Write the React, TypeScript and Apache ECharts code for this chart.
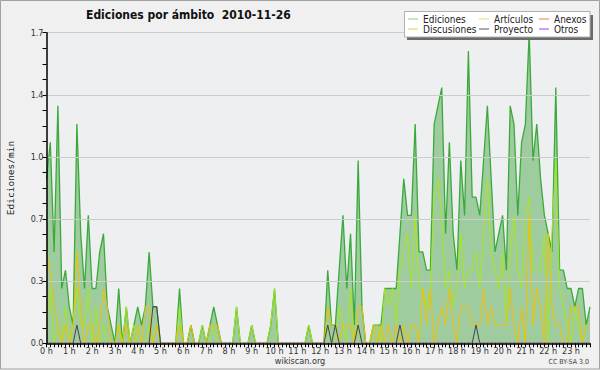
import React, { useEffect, useRef } from "react";
import * as echarts from "echarts";

const FONT = '"DejaVu Sans Condensed", "Liberation Sans Narrow", "DejaVu Sans", sans-serif';

// 10-minute bins over the day
const timeLabels: string[] = [];
for (let h = 0; h < 24; h++) {
  for (let m = 0; m < 60; m += 10) timeLabels.push(`${h}:${String(m).padStart(2, "0")}`);
}

const ediciones = [
  0.9, 1.1, 0.5, 1.3, 0.3, 0.4, 0.2, 0.1, 1.2, 0.6, 0.3, 0.7,
  0.3, 0.3, 0.5, 0.6, 0.2, 0.1, 0, 0.3, 0, 0.2, 0, 0.1,
  0.2, 0.1, 0.2, 0.5, 0.2, 0.2, 0, 0, 0, 0, 0, 0.3,
  0, 0, 0.1, 0, 0, 0.1, 0, 0.1, 0.2, 0.1, 0, 0,
  0, 0, 0.2, 0, 0, 0, 0.1, 0, 0, 0, 0, 0.1,
  0.3, 0, 0, 0, 0, 0, 0, 0, 0, 0.1, 0, 0,
  0, 0, 0.4, 0.1, 0.1, 0.4, 0.7, 0.3, 0.6, 0.1, 1.0, 0.2,
  0, 0, 0.1, 0.1, 0.1, 0.3, 0.3, 0.3, 0.3, 0.6, 0.9, 0.7,
  0.7, 1.2, 0.5, 0.5, 0.4, 0.4, 1.2, 1.3, 1.4, 0.6, 1.1, 0.6,
  0.4, 1.0, 0.7, 1.6, 0.8, 0.8, 0.7, 1.0, 1.3, 0.9, 0.5, 0.6,
  0.7, 0.4, 1.3, 1.2, 0.7, 1.1, 1.2, 1.7, 1.0, 1.2, 0.9, 0.7,
  0.6, 0.5, 1.4, 0.4, 0.4, 0.3, 0.3, 0.2, 0.3, 0.3, 0.1, 0.2,
];

const articulos = [
  0.1, 0.3, 0, 0.1, 0, 0.2, 0, 0.1, 0.3, 0.1, 0.1, 0.3,
  0, 0.2, 0, 0.1, 0, 0, 0, 0.1, 0, 0.2, 0, 0.1,
  0, 0, 0, 0.1, 0, 0, 0, 0, 0, 0, 0, 0.2,
  0, 0, 0, 0, 0, 0.1, 0, 0, 0.1, 0, 0, 0,
  0, 0, 0.2, 0, 0, 0, 0.1, 0, 0, 0, 0, 0.1,
  0.3, 0, 0, 0, 0, 0, 0, 0, 0, 0.1, 0, 0,
  0, 0, 0.1, 0, 0, 0.2, 0.1, 0, 0.3, 0, 0.1, 0,
  0, 0, 0.1, 0.1, 0, 0.3, 0.2, 0.3, 0.1, 0.4, 0.5, 0.6,
  0.3, 0.7, 0.3, 0.3, 0.2, 0.3, 0.8, 0.9, 0.7, 0.3, 0.4, 0.2,
  0.3, 0.6, 0.3, 0.4, 0.4, 0.5, 0.3, 0.6, 0.9, 0.5, 0.4, 0.3,
  0.5, 0.1, 0.5, 0.7, 0.4, 0.3, 0.7, 0.8, 0.4, 0.4, 0.4, 0.6,
  0, 0.6, 1.0, 0.3, 0.2, 0.1, 0, 0.2, 0.1, 0, 0, 0,
];

const anexos = [
  0, 0, 0, 0, 0, 0, 0, 0, 0, 0, 0, 0,
  0, 0, 0, 0, 0, 0, 0, 0, 0, 0, 0, 0,
  0, 0, 0, 0, 0, 0, 0, 0, 0, 0, 0, 0,
  0, 0, 0, 0, 0, 0, 0, 0, 0, 0, 0, 0,
  0, 0, 0, 0, 0, 0, 0, 0, 0, 0, 0, 0,
  0, 0, 0, 0, 0, 0, 0, 0, 0, 0, 0, 0,
  0, 0, 0, 0, 0, 0, 0, 0, 0, 0, 0, 0,
  0, 0, 0, 0, 0, 0, 0, 0, 0, 0, 0, 0,
  0, 0, 0, 0, 0, 0, 0, 0, 0, 0, 0, 0,
  0, 0, 0, 0, 0, 0, 0, 0, 0, 0, 0, 0,
  0, 0, 0, 0, 0, 0, 0, 0, 0, 0, 0, 0,
  0, 0, 0, 0, 0, 0, 0, 0, 0, 0, 0, 0,
];

const discusiones = [
  0.5, 0.4, 0.2, 0.1, 0, 0.1, 0, 0.1, 0.5, 0.2, 0, 0.1,
  0.1, 0, 0.1, 0.3, 0.2, 0, 0, 0.1, 0, 0.1, 0, 0,
  0.1, 0, 0.2, 0.2, 0, 0.1, 0, 0, 0, 0, 0, 0.1,
  0, 0, 0.1, 0, 0, 0, 0, 0.1, 0.1, 0.1, 0, 0,
  0, 0, 0, 0, 0, 0, 0, 0, 0, 0, 0, 0,
  0, 0, 0, 0, 0, 0, 0, 0, 0, 0, 0, 0,
  0, 0, 0.2, 0.1, 0.1, 0, 0.1, 0.1, 0.1, 0, 0.2, 0.2,
  0, 0, 0.1, 0, 0.1, 0, 0.1, 0, 0.1, 0, 0.1, 0,
  0.1, 0.1, 0, 0.3, 0.1, 0.3, 0, 0.1, 0.2, 0.1, 0.3, 0.1,
  0, 0.2, 0.2, 0.2, 0.1, 0.1, 0.1, 0.3, 0.1, 0.2, 0.1, 0.1,
  0.1, 0.1, 0.3, 0.1, 0, 0.2, 0, 0.7, 0.1, 0.3, 0.2, 0,
  0.6, 0.2, 0.1, 0.1, 0, 0, 0.2, 0.2, 0.2, 0, 0.1, 0.1,
];

const proyecto = [
  0, 0, 0, 0, 0, 0, 0, 0, 0.1, 0, 0, 0,
  0, 0, 0, 0, 0, 0, 0, 0, 0, 0, 0, 0,
  0, 0, 0, 0, 0.2, 0.2, 0, 0, 0, 0, 0, 0,
  0, 0, 0, 0, 0, 0, 0, 0, 0, 0, 0, 0,
  0, 0, 0, 0, 0, 0, 0, 0, 0, 0, 0, 0,
  0, 0, 0, 0, 0, 0, 0, 0, 0, 0, 0, 0,
  0, 0, 0.1, 0, 0.1, 0, 0, 0, 0, 0, 0.1, 0,
  0, 0, 0, 0, 0, 0, 0, 0, 0, 0.1, 0, 0,
  0, 0, 0, 0, 0, 0, 0, 0, 0, 0, 0, 0,
  0, 0, 0, 0, 0, 0.1, 0, 0, 0, 0, 0, 0,
  0, 0, 0, 0, 0, 0, 0, 0, 0, 0, 0, 0,
  0, 0, 0, 0, 0, 0, 0, 0, 0, 0, 0, 0,
];

const otros = [
  0, 0, 0, 0, 0, 0, 0, 0, 0, 0, 0, 0,
  0, 0, 0, 0, 0, 0, 0, 0, 0, 0, 0, 0,
  0, 0, 0, 0, 0, 0, 0, 0, 0, 0, 0, 0,
  0, 0, 0, 0, 0, 0, 0, 0, 0, 0, 0, 0,
  0, 0, 0, 0, 0, 0, 0, 0, 0, 0, 0, 0,
  0, 0, 0, 0, 0, 0, 0, 0, 0, 0, 0, 0,
  0, 0, 0, 0, 0, 0, 0, 0, 0, 0, 0, 0,
  0, 0, 0, 0, 0, 0, 0, 0, 0, 0, 0, 0,
  0, 0, 0, 0, 0, 0, 0, 0, 0, 0, 0, 0,
  0, 0, 0, 0, 0, 0, 0, 0, 0, 0, 0, 0,
  0, 0, 0, 0, 0, 0, 0, 0, 0, 0, 0, 0,
  0, 0, 0, 0, 0, 0, 0, 0, 0, 0, 0, 0,
];

const TITLE = "Ediciones por ámbito  2010-11-26";

export default function App() {
  const ref = useRef<HTMLDivElement>(null);

  useEffect(() => {
    const chart = echarts.init(ref.current!, null, { renderer: "svg" });

    const line = (name: string, data: number[], color: string, width: number) => ({
      type: "line",
      name,
      data,
      symbol: "none",
      silent: true,
      lineStyle: { color, width },
      itemStyle: { color },
    });

    const legendCommon = {
      orient: "vertical",
      top: 14,
      padding: 0,
      itemGap: 0,
      itemWidth: 10,
      itemHeight: 1,
      icon: "rect",
      selectedMode: false,
      z: 20,
      textStyle: { fontFamily: FONT, fontSize: 10, lineHeight: 10, color: "#222" },
    };

    chart.setOption({
      animation: false,
      backgroundColor: "#f0f0f0",
      title: {
        text: TITLE,
        left: 86,
        top: 9,
        padding: 0,
        textStyle: { fontFamily: FONT, fontSize: 12, fontWeight: "bold", color: "#111" },
      },
      legend: [
        {
          ...legendCommon,
          left: 408,
          data: [
            { name: "Ediciones", itemStyle: { color: "#88cc88" } },
            { name: "Discusiones", itemStyle: { color: "#eecc55" } },
          ],
        },
        {
          ...legendCommon,
          left: 479,
          data: [
            { name: "Artículos", itemStyle: { color: "#ccee66" } },
            { name: "Proyecto", itemStyle: { color: "#555555" } },
          ],
        },
        {
          ...legendCommon,
          left: 539,
          data: [
            { name: "Anexos", itemStyle: { color: "#ee7744" } },
            { name: "Otros", itemStyle: { color: "#9944ee" } },
          ],
        },
      ],
      grid: {
        left: 46.5,
        right: 10,
        top: 32.7,
        bottom: 26.7,
        show: true,
        backgroundColor: "#eeeff1",
        borderWidth: 0,
      },
      xAxis: {
        type: "category",
        data: timeLabels,
        boundaryGap: false,
        z: 10,
        axisLine: { lineStyle: { color: "#000", width: 1.5 } },
        axisTick: { interval: 0, length: 4, lineStyle: { color: "#000" } },
        axisLabel: {
          interval: (i: number) => i % 6 === 0,
          formatter: (v: string) => v.split(":")[0] + " h",
          fontFamily: FONT,
          fontSize: 9,
          color: "#333",
          margin: 3,
        },
        splitLine: { show: false },
      },
      yAxis: {
        type: "value",
        min: 0,
        max: 1.7,
        interval: 0.34,
        z: 10,
        axisLine: { show: true, lineStyle: { color: "#000", width: 1.5 } },
        axisTick: { show: true, length: 4, lineStyle: { color: "#000" } },
        minorTick: { show: true, splitNumber: 4, length: 4, lineStyle: { color: "#000" } },
        axisLabel: {
          formatter: (v: number) => v.toFixed(1),
          fontFamily: FONT,
          fontSize: 9,
          color: "#333",
          margin: 3,
        },
        splitLine: { show: true, lineStyle: { color: "#cccccc", width: 1 } },
      },
      series: [
        {
          ...line("Ediciones", ediciones, "#3aaa3a", 1.3),
          areaStyle: { color: "#9fcc9f", opacity: 1 },
        },
        line("Artículos", articulos, "#a8e61d", 1),
        line("Anexos", anexos, "#ee7744", 1),
        line("Discusiones", discusiones, "#f0c000", 1),
        line("Proyecto", proyecto, "#444444", 1),
        line("Otros", otros, "#9944ee", 1),
      ],
      graphic: [
        {
          type: "rect",
          z: 15,
          shape: { x: 0.5, y: 0.5, width: 599, height: 368.5 },
          style: { fill: "none", stroke: "#a0a0a0", lineWidth: 1 },
        },
        {
          type: "rect",
          z: 15,
          shape: { x: 407, y: 15, width: 186, height: 25 },
          style: { fill: "#6a6a6a" },
        },
        {
          type: "rect",
          z: 16,
          shape: { x: 404.5, y: 11.5, width: 185.5, height: 25.5 },
          style: { fill: "#ffffff", stroke: "#b0b0b0", lineWidth: 1 },
        },
        {
          type: "text",
          z: 15,
          x: 10,
          y: 178,
          rotation: Math.PI / 2,
          style: {
            text: "Ediciones/min",
            fontFamily: '"DejaVu Sans Mono", monospace',
            fontSize: 9.5,
            fill: "#222",
            align: "center",
            verticalAlign: "middle",
          },
        },
        {
          type: "text",
          z: 15,
          x: 300,
          y: 361,
          style: {
            text: "wikiscan.org",
            fontFamily: FONT,
            fontSize: 9,
            fill: "#333",
            align: "center",
            verticalAlign: "middle",
          },
        },
        {
          type: "text",
          z: 15,
          x: 589,
          y: 362,
          style: {
            text: "CC BY-SA 3.0",
            fontFamily: FONT,
            fontSize: 7,
            fill: "#444",
            align: "right",
            verticalAlign: "middle",
          },
        },
      ],
    });

    return () => chart.dispose();
  }, []);

  return (
    <div
      ref={ref}
      style={{ position: "fixed", left: 0, top: 0, width: 600, height: 370 }}
    />
  );
}
